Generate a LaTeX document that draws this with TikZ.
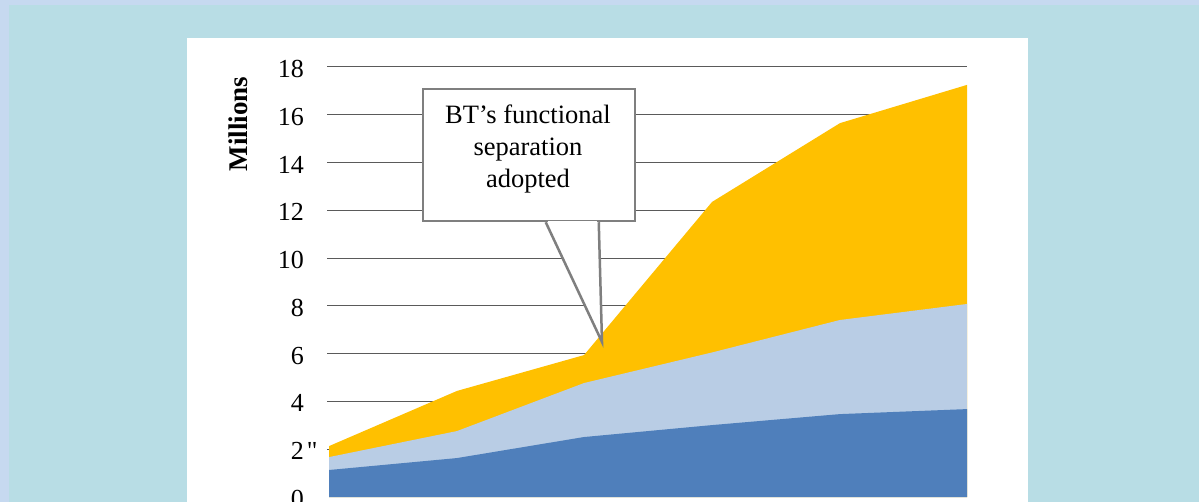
\documentclass[tikz,border=0pt]{standalone}
\usepackage{fontspec}
\setmainfont{Liberation Serif}
\newfontfamily\rawserif{Liberation Serif}[Ligatures=TeXOff]
\usetikzlibrary{calc}

\definecolor{pagebg}{HTML}{C6D9F0}
\definecolor{panelbg}{HTML}{B8DDE5}
\definecolor{topband}{HTML}{FFC000}
\definecolor{midband}{HTML}{B9CDE5}
\definecolor{lowband}{HTML}{4F7FBB}
\definecolor{gridgray}{HTML}{5A5A5A}
\definecolor{calloutgray}{HTML}{7F7F7F}

\tikzset{
  gridline/.style={draw=gridgray, line width=1pt},
  ticklabel/.style={anchor=east, inner sep=0pt, font=\fontsize{26}{30}\selectfont},
  axistitle/.style={rotate=90, inner sep=0pt, font=\fontsize{27}{30}\selectfont\bfseries},
  calloutbox/.style={draw=calloutgray, fill=white, line width=2.5pt,
    minimum width=212pt, minimum height=132pt, inner sep=0pt},
  callouttext/.style={align=center, inner sep=0pt, font=\fontsize{26.5}{32}\selectfont},
}

\begin{document}
\begin{tikzpicture}[x=1pt,y=-1pt]
  \useasboundingbox (0,0) rectangle (1199,502);
  % slide background and chart panel
  \fill[pagebg] (0,0) rectangle (1199,502);
  \fill[panelbg] (9,5) rectangle (1199,502);
  \fill[white] (187,38) rectangle (1028,502);

  % plot area: value axis in millions, 0 at the baseline
  \begin{scope}[shift={(0,497)}, y=23.89pt]
    \foreach \v in {2,4,...,18}
      \draw[gridline] (327,\v) -- (967,\v);

    % stacked areas
    \fill[topband] (329,0) -- (329,2.13) -- (457,4.44) -- (584,5.94)
      -- (712,12.35) -- (840,15.65) -- (967,17.25) -- (967,0) -- cycle;
    \fill[midband] (329,0) -- (329,1.67) -- (457,2.76) -- (584,4.77)
      -- (712,6.05) -- (840,7.41) -- (967,8.08) -- (967,0) -- cycle;
    \fill[lowband] (329,0) -- (329,1.13) -- (457,1.63) -- (584,2.51)
      -- (712,3.01) -- (840,3.47) -- (967,3.68) -- (967,0) -- cycle;

    % tick labels
    \foreach \v/\n in {0/t0,4/t4,6/t6,8/t8,10/t10,12/t12,14/t14,16/t16,18/t18}
      \node[ticklabel, yshift=-2pt] (\n) at (304,\v) {\v};
    \node[ticklabel, yshift=-2pt] (t2) at (304,2) {2\rlap{\kern3pt\rawserif"}};
  \end{scope}

  \node[axistitle] (ytitle) at (238,124) {Millions};

  % callout with pointer
  \coordinate (tip) at (602,342);
  \node[calloutbox] (callout) at (529,155) {};
  \draw[draw=calloutgray, fill=white, line width=2.5pt, line join=miter]
    ($(callout.south west)+(124,0)$) -- (tip) -- ($(callout.south west)+(177,0)$);
  \draw[white, line width=3pt]
    ($(callout.south west)+(125.8,0)$) -- ($(callout.south west)+(175.6,0)$);
  \node[callouttext] (note) at (528,149) {BT’s functional\\separation\\adopted};
\end{tikzpicture}
\end{document}
